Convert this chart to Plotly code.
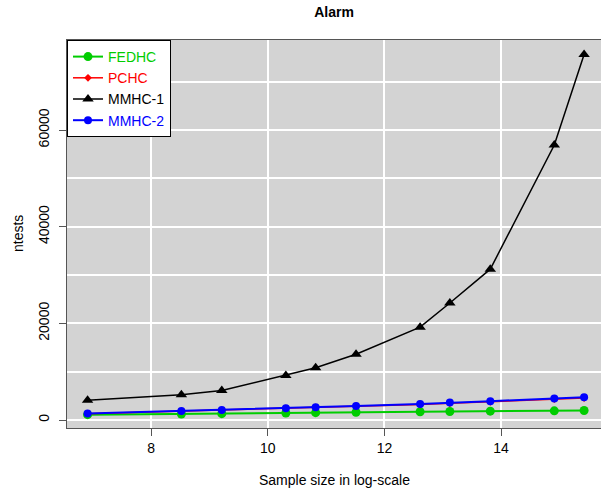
import plotly.graph_objects as go

log_n = [6.908, 8.517, 9.210, 10.309, 10.820, 11.513, 12.612, 13.122, 13.816, 14.914, 15.425]
fedhc = [1100, 1230, 1310, 1450, 1520, 1600, 1700, 1760, 1830, 1900, 1960]
pchc = [1300, 1800, 2000, 2400, 2600, 2850, 3200, 3450, 3750, 4300, 4550]
mmhc1 = [4100, 5200, 6100, 9200, 10800, 13600, 19200, 24200, 31200, 56900, 75600]
mmhc2 = [1350, 1850, 2050, 2450, 2650, 2900, 3300, 3600, 3900, 4450, 4700]
x_ticks = [8, 10, 12, 14]
y_ticks = [0, 20000, 40000, 60000]
y_minor = [10000, 30000, 50000, 70000]

series = [
    ("FEDHC", fedhc, "#00cd00", "circle", 9, 2),
    ("PCHC", pchc, "#ff0000", "diamond", 6, 1.5),
    ("MMHC-1", mmhc1, "#000000", "triangle-up", 10, 1.5),
    ("MMHC-2", mmhc2, "#0000ff", "circle", 8, 2),
]

fig = go.Figure()
for name, vals, col, sym, size, lw in series:
    fig.add_trace(go.Scatter(
        x=log_n, y=vals, mode="lines+markers",
        name=f"<span style='color:{col}'>{name}</span>",
        line=dict(color=col, width=lw),
        marker=dict(color=col, symbol=sym, size=size, line=dict(width=0)),
    ))

font = "Liberation Sans, Arial, Helvetica, sans-serif"
fig.update_layout(
    width=601, height=490,
    margin=dict(l=67, r=0, t=40, b=62, autoexpand=False),
    paper_bgcolor="white", plot_bgcolor="#d3d3d3",
    font=dict(family=font, size=14, color="black"),
    title=dict(text="<b>Alarm</b>", x=0.5, xref="paper", y=1 - 12 / 490, yref="container",
               yanchor="middle", font=dict(size=14, family=font), automargin=False),
    showlegend=True,
    legend=dict(x=0, y=1, xanchor="left", yanchor="top", bgcolor="white",
                bordercolor="black", borderwidth=1, font=dict(size=14),
                tracegroupgap=0, itemwidth=30),
    xaxis=dict(range=[6.555, 15.715], tickmode="array", tickvals=x_ticks,
               ticktext=[str(v) for v in x_ticks], automargin=False,
               showgrid=True, gridcolor="white", gridwidth=2, zeroline=False,
               ticks="outside", ticklen=7, tickcolor="#555", tickfont=dict(size=14),
               showline=True, linecolor="#555", linewidth=1, mirror=True),
    yaxis=dict(range=[-1655, 78620], tickmode="array", tickvals=y_ticks,
               ticktext=[str(v) for v in y_ticks], automargin=False,
               showgrid=True, gridcolor="white", gridwidth=2, zeroline=False,
               ticks="outside", ticklen=7, tickcolor="#555", tickangle=-90, tickfont=dict(size=14),
               ticklabelstandoff=4,
               showline=True, linecolor="#555", linewidth=1, mirror=True,
               minor=dict(tickvals=y_minor, showgrid=True,
                          gridcolor="white", gridwidth=2, ticks="")),
    annotations=[
        dict(text="Sample size in log-scale", xref="paper", yref="paper", x=0.5,
             y=(428 - 480) / 388, xanchor="center", yanchor="middle", showarrow=False,
             font=dict(size=14)),
        dict(text="ntests", xref="paper", yref="paper", x=(18 - 67) / 534, y=0.5,
             xanchor="center", yanchor="middle", textangle=-90, showarrow=False,
             font=dict(size=14)),
    ],
)
fig.write_html("out.html", config={"displayModeBar": False},
               post_script="document.body.style.margin='0';document.body.style.overflow='hidden';")
